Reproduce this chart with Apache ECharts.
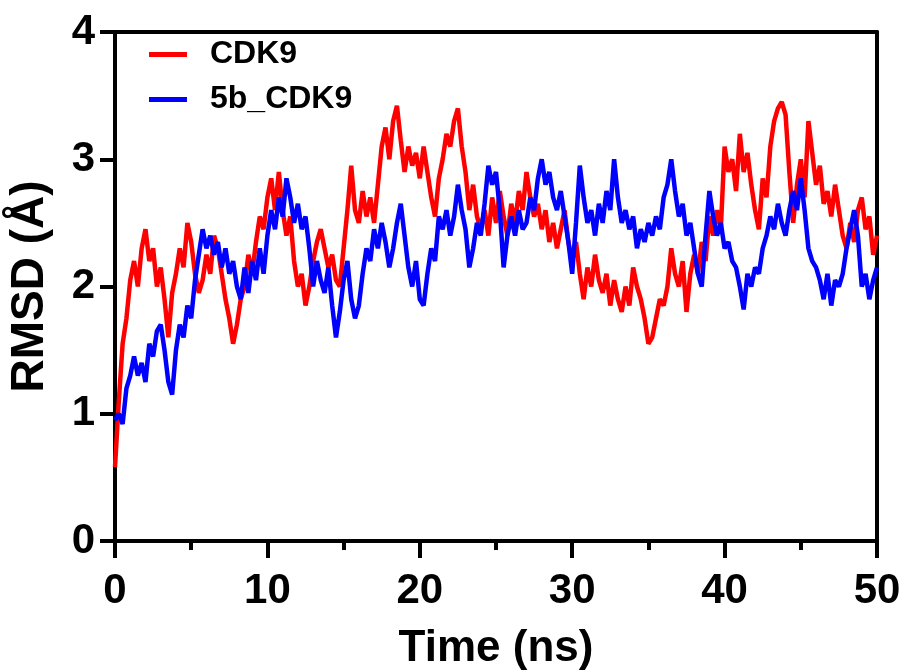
<!DOCTYPE html>
<html>
<head>
<meta charset="utf-8">
<script src="https://cdn.jsdelivr.net/npm/echarts@6/dist/echarts.min.js"></script>
<style>html,body{margin:0;padding:0;background:#fff}#c{width:905px;height:670px}</style>
</head>
<body>
<div id="c"></div>
<script>
// Sampling grid (ns) of the digitised trajectories
const timeStep = 0.25;
const seriesNames = ['CDK9', '5b_CDK9'];
const xTicks = [0, 10, 20, 30, 40, 50];
const yTicks = [0, 1, 2, 3, 4];

// RMSD (Å) of CDK9, one value every 0.25 ns from 0 to 50 ns
const rmsdCDK9 = [
  0.58, 1.1, 1.55, 1.75, 2.05, 2.2, 2.0, 2.3, 2.45, 2.2, 2.3, 2.0, 2.15, 1.9, 1.6, 1.95, 2.1, 2.3, 2.15, 2.5,
  2.35, 2.1, 1.95, 2.05, 2.25, 2.1, 2.4, 2.3, 2.1, 1.9, 1.75, 1.55, 1.7, 1.9, 2.0, 2.25, 2.1, 2.35, 2.55, 2.45,
  2.7, 2.85, 2.6, 2.9, 2.6, 2.4, 2.55, 2.2, 2.0, 2.1, 1.85, 2.0, 2.2, 2.35, 2.45, 2.3, 2.15, 2.25, 2.05, 2.0,
  2.3, 2.6, 2.95, 2.6, 2.5, 2.75, 2.55, 2.7, 2.5, 2.8, 3.1, 3.25, 3.0, 3.3, 3.42, 3.15, 2.9, 3.1, 2.95, 3.05,
  2.85, 3.1, 2.9, 2.7, 2.55, 2.85, 3.0, 3.2, 3.1, 3.3, 3.4, 3.1, 2.9, 2.6, 2.8, 2.55, 2.45, 2.6, 2.4, 2.7,
  2.5, 2.75, 2.55, 2.4, 2.65, 2.5, 2.75, 2.6, 2.9, 2.7, 2.55, 2.65, 2.45, 2.6, 2.35, 2.5, 2.3, 2.45, 2.6, 2.35,
  2.2, 2.35, 2.1, 1.9, 2.15, 2.0, 2.25, 2.05, 1.95, 2.1, 1.85, 2.05, 1.9, 1.8, 2.0, 1.85, 2.15, 2.0, 1.9, 1.75,
  1.55, 1.6, 1.75, 1.9, 1.85, 2.0, 2.3, 2.1, 2.0, 2.2, 1.8, 2.1, 2.25, 2.1, 2.35, 2.2, 2.55, 2.4, 2.6, 2.45,
  3.1, 2.9, 3.0, 2.75, 3.2, 2.9, 3.05, 2.8, 2.6, 2.45, 2.85, 2.7, 3.1, 3.3, 3.4, 3.45, 3.35, 2.9, 2.5, 2.8,
  3.0, 2.7, 3.3, 3.05, 2.8, 2.95, 2.65, 2.75, 2.55, 2.8, 2.6, 2.4, 2.3, 2.5, 2.35, 2.6, 2.7, 2.45, 2.55, 2.25,
  2.4
];

// RMSD (Å) of 5b_CDK9, same sampling
const rmsd5bCDK9 = [
  0.95, 1.0, 0.92, 1.2, 1.3, 1.45, 1.3, 1.4, 1.25, 1.55, 1.45, 1.65, 1.7, 1.5, 1.25, 1.15, 1.5, 1.7, 1.6, 1.85,
  1.75, 2.05, 2.25, 2.45, 2.3, 2.4, 2.25, 2.35, 2.15, 2.3, 2.1, 2.2, 2.0, 1.9, 2.15, 1.95, 2.2, 2.05, 2.3, 2.1,
  2.4, 2.6, 2.45, 2.7, 2.55, 2.85, 2.7, 2.5, 2.65, 2.45, 2.55, 2.3, 2.0, 2.2, 2.05, 1.95, 2.15, 1.85, 1.6, 1.8,
  2.05, 2.2, 1.9, 1.75, 1.85, 2.1, 2.3, 2.2, 2.45, 2.3, 2.5, 2.35, 2.15, 2.3, 2.5, 2.65, 2.4, 2.15, 2.0, 2.2,
  1.9, 1.85, 2.1, 2.3, 2.2, 2.55, 2.45, 2.6, 2.4, 2.55, 2.8, 2.6, 2.45, 2.15, 2.3, 2.5, 2.4, 2.65, 2.95, 2.8,
  2.9, 2.6, 2.15, 2.4, 2.55, 2.4, 2.6, 2.45, 2.5, 2.7, 2.6, 2.85, 3.0, 2.8, 2.9, 2.7, 2.6, 2.75, 2.55, 2.35,
  2.1, 2.5, 2.95, 2.7, 2.5, 2.6, 2.4, 2.65, 2.5, 2.75, 2.6, 3.0, 2.7, 2.5, 2.6, 2.45, 2.55, 2.3, 2.45, 2.35,
  2.5, 2.4, 2.55, 2.45, 2.7, 2.8, 3.0, 2.75, 2.55, 2.65, 2.4, 2.5, 2.3, 2.1, 2.0, 2.4, 2.75, 2.55, 2.4, 2.5,
  2.3, 2.35, 2.2, 2.15, 2.0, 1.82, 2.1, 2.0, 2.15, 2.1, 2.3, 2.4, 2.55, 2.45, 2.65, 2.5, 2.4, 2.6, 2.75, 2.6,
  2.85, 2.6, 2.3, 2.2, 2.15, 2.05, 1.9, 2.1, 1.85, 2.05, 2.0, 2.1, 2.3, 2.45, 2.6, 2.4, 2.0, 2.1, 1.9, 2.05,
  2.15
];

const pairs = vals => vals.map((v, i) => [i * timeStep, v]);
const FONT = '"Liberation Sans", Arial, sans-serif';

const chart = echarts.init(document.getElementById('c'), null, {renderer: 'canvas'});
chart.setOption({
  animation: false,
  backgroundColor: '#fff',
  grid: {left: 115, right: 28, top: 32, bottom: 129, containLabel: false, outerBoundsMode: 'none'},
  legend: {
    left: 144, top: 27, orient: 'vertical', itemGap: 0,
    itemWidth: 38, itemHeight: 5, icon: 'rect',
    textStyle: {fontFamily: FONT, fontWeight: 'bold', fontSize: 32, color: '#000', lineHeight: 45, padding: [0, 0, 0, 18]},
    data: seriesNames
  },
  xAxis: [{
    type: 'value', min: xTicks[0], max: xTicks[xTicks.length - 1], interval: 10,
    position: 'bottom',
    name: 'Time (ns)', nameLocation: 'middle', nameGap: 86,
    nameTextStyle: {fontFamily: FONT, fontWeight: 'bold', fontSize: 44, color: '#000'},
    axisLine: {show: true, onZero: false, lineStyle: {color: '#000', width: 4}},
    axisTick: {show: true, inside: false, length: 17, lineStyle: {color: '#000', width: 4}},
    minorTick: {show: true, splitNumber: 2, length: 9, lineStyle: {color: '#000', width: 4}},
    axisLabel: {margin: 29, fontFamily: FONT, fontWeight: 'bold', fontSize: 42, color: '#000'},
    splitLine: {show: false}
  }, {
    type: 'value', min: 0, max: 50, position: 'top',
    axisLine: {show: true, onZero: false, lineStyle: {color: '#000', width: 4}},
    axisTick: {show: false}, axisLabel: {show: false}, splitLine: {show: false}
  }],
  yAxis: [{
    type: 'value', min: yTicks[0], max: yTicks[yTicks.length - 1], interval: 1,
    position: 'left',
    name: 'RMSD (Å)', nameLocation: 'middle', nameGap: 62, nameRotate: 90,
    nameTextStyle: {fontFamily: FONT, fontWeight: 'bold', fontSize: 46, color: '#000'},
    axisLine: {show: true, onZero: false, lineStyle: {color: '#000', width: 4}},
    axisTick: {show: true, inside: false, length: 15, lineStyle: {color: '#000', width: 4}},
    axisLabel: {margin: 20, fontFamily: FONT, fontWeight: 'bold', fontSize: 42, color: '#000'},
    splitLine: {show: false}
  }, {
    type: 'value', min: 0, max: 4, position: 'right',
    axisLine: {show: true, onZero: false, lineStyle: {color: '#000', width: 4}},
    axisTick: {show: false}, axisLabel: {show: false}, splitLine: {show: false}
  }],
  series: [{
    name: seriesNames[0], type: 'line', data: pairs(rmsdCDK9),
    showSymbol: false, symbol: 'none', color: '#ff0000',
    lineStyle: {color: '#ff0000', width: 4.5}, z: 2
  }, {
    name: seriesNames[1], type: 'line', data: pairs(rmsd5bCDK9),
    showSymbol: false, symbol: 'none', color: '#0000ff',
    lineStyle: {color: '#0000ff', width: 4.5}, z: 3
  }]
});
</script>
</body>
</html>
